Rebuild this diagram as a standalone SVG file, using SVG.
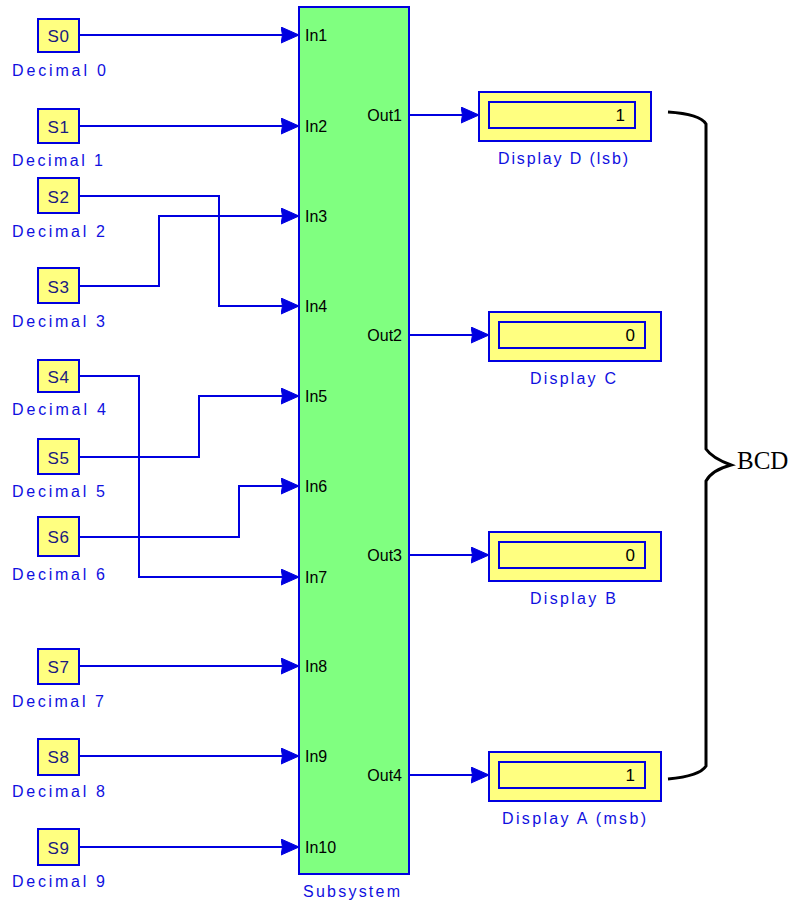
<svg xmlns="http://www.w3.org/2000/svg" width="799" height="903" viewBox="0 0 799 903">
<style>
.src{fill:#ffff80;stroke:#0000e0;stroke-width:2}
.stxt{font-family:"Liberation Sans",Arial,sans-serif;font-size:17px;fill:#1a1a80;text-anchor:middle;letter-spacing:0.5px}
.lbl{font-family:"Liberation Sans",Arial,sans-serif;font-size:16px;fill:#1010e0}
.port{font-family:"Liberation Sans",Arial,sans-serif;font-size:16px;fill:#000}
.wire{fill:none;stroke:#0000e0;stroke-width:2;marker-end:url(#arr)}
.disp{fill:#ffff80;stroke:#0000e0;stroke-width:2}
.val{font-family:"Liberation Sans",Arial,sans-serif;font-size:17px;fill:#000;text-anchor:end}
</style>
<defs>
<marker id="arr" markerUnits="userSpaceOnUse" markerWidth="20" markerHeight="20" refX="18" refY="8.5" orient="auto">
<path d="M0,0.5 L18,8.5 L0,16.5 L1.5,8.5 z" fill="#0000e0" stroke="#0000e0" stroke-width="1" stroke-linejoin="round"/>
</marker>
</defs>
<rect width="799" height="903" fill="#fff"/>

<g id="subsystem">
<rect x="299" y="7" width="110" height="867" fill="#80ff80" stroke="#0000e0" stroke-width="2"/>
<text class="port" x="305" y="41">In1</text>
<text class="port" x="305" y="132">In2</text>
<text class="port" x="305" y="222">In3</text>
<text class="port" x="305" y="312">In4</text>
<text class="port" x="305" y="402">In5</text>
<text class="port" x="305" y="492">In6</text>
<text class="port" x="305" y="583">In7</text>
<text class="port" x="305" y="672">In8</text>
<text class="port" x="305" y="762">In9</text>
<text class="port" x="305" y="853">In10</text>
<text class="port" x="402" y="121" text-anchor="end">Out1</text>
<text class="port" x="402" y="341" text-anchor="end">Out2</text>
<text class="port" x="402" y="561" text-anchor="end">Out3</text>
<text class="port" x="402" y="781" text-anchor="end">Out4</text>
<text class="lbl" x="303" y="897" textLength="97" lengthAdjust="spacing">Subsystem</text>
</g>

<g id="S0"><rect class="src" x="38" y="19" width="41" height="33"/><text class="stxt" x="58.5" y="42">S0</text><text class="lbl" x="12" y="76" textLength="94" lengthAdjust="spacing">Decimal 0</text></g>
<g id="S1"><rect class="src" x="38" y="109" width="41" height="34"/><text class="stxt" x="58.5" y="133">S1</text><text class="lbl" x="12" y="166" textLength="91" lengthAdjust="spacing">Decimal 1</text></g>
<g id="S2"><rect class="src" x="38" y="178" width="41" height="35"/><text class="stxt" x="58.5" y="203">S2</text><text class="lbl" x="12" y="237" textLength="93" lengthAdjust="spacing">Decimal 2</text></g>
<g id="S3"><rect class="src" x="38" y="268" width="41" height="35"/><text class="stxt" x="58.5" y="293">S3</text><text class="lbl" x="12" y="327" textLength="93" lengthAdjust="spacing">Decimal 3</text></g>
<g id="S4"><rect class="src" x="38" y="360" width="41" height="32"/><text class="stxt" x="58.5" y="383">S4</text><text class="lbl" x="12" y="415" textLength="94" lengthAdjust="spacing">Decimal 4</text></g>
<g id="S5"><rect class="src" x="38" y="439" width="41" height="35"/><text class="stxt" x="58.5" y="464">S5</text><text class="lbl" x="12" y="497" textLength="93" lengthAdjust="spacing">Decimal 5</text></g>
<g id="S6"><rect class="src" x="38" y="517" width="41" height="39"/><text class="stxt" x="58.5" y="543">S6</text><text class="lbl" x="12" y="580" textLength="93" lengthAdjust="spacing">Decimal 6</text></g>
<g id="S7"><rect class="src" x="38" y="649" width="41" height="35"/><text class="stxt" x="58.5" y="673">S7</text><text class="lbl" x="12" y="707" textLength="92" lengthAdjust="spacing">Decimal 7</text></g>
<g id="S8"><rect class="src" x="38" y="739" width="41" height="36"/><text class="stxt" x="58.5" y="763">S8</text><text class="lbl" x="12" y="797" textLength="93" lengthAdjust="spacing">Decimal 8</text></g>
<g id="S9"><rect class="src" x="38" y="829" width="41" height="36"/><text class="stxt" x="58.5" y="854">S9</text><text class="lbl" x="12" y="887" textLength="93" lengthAdjust="spacing">Decimal 9</text></g>

<g id="displayD"><rect class="disp" x="479" y="92" width="172" height="49"/><rect class="disp" x="489" y="102" width="146" height="26"/><text class="val" x="625" y="121">1</text><text class="lbl" x="498" y="164" textLength="130" lengthAdjust="spacing">Display D (lsb)</text></g>
<g id="displayC"><rect class="disp" x="489" y="312" width="172" height="49"/><rect class="disp" x="499" y="322" width="146" height="26"/><text class="val" x="635" y="341">0</text><text class="lbl" x="530" y="384" textLength="86" lengthAdjust="spacing">Display C</text></g>
<g id="displayB"><rect class="disp" x="489" y="532" width="172" height="49"/><rect class="disp" x="499" y="542" width="146" height="26"/><text class="val" x="635" y="561">0</text><text class="lbl" x="530" y="604" textLength="86" lengthAdjust="spacing">Display B</text></g>
<g id="displayA"><rect class="disp" x="489" y="752" width="172" height="49"/><rect class="disp" x="499" y="762" width="146" height="26"/><text class="val" x="635" y="781">1</text><text class="lbl" x="502" y="824" textLength="144" lengthAdjust="spacing">Display A (msb)</text></g>

<g id="connectors">
<path class="wire" d="M79,35 H299"/>
<path class="wire" d="M79,126 H299"/>
<path class="wire" d="M79,196 H219 V306 H299"/>
<path class="wire" d="M79,286 H159 V216 H299"/>
<path class="wire" d="M79,376 H139 V577 H299"/>
<path class="wire" d="M79,457 H199 V396 H299"/>
<path class="wire" d="M79,537 H239 V486 H299"/>
<path class="wire" d="M79,666 H299"/>
<path class="wire" d="M79,756 H299"/>
<path class="wire" d="M79,847 H299"/>
<path class="wire" d="M409,115 H479"/>
<path class="wire" d="M409,335 H489"/>
<path class="wire" d="M409,555 H489"/>
<path class="wire" d="M409,775 H489"/>
</g>

<g id="bcd">
<path d="M668,112 Q700,114 706,124 V449 Q712,458 731,465 Q712,470 706,481 V766 Q700,776 668,779" fill="none" stroke="#000" stroke-width="3"/>
<text x="737" y="469" font-family="Liberation Serif,'Times New Roman',serif" font-size="25">BCD</text>
</g>
</svg>
